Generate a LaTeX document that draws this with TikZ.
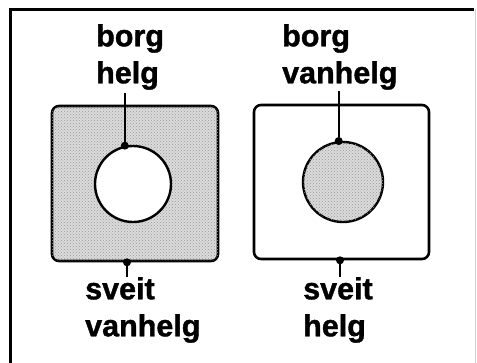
\documentclass[tikz,border=0pt]{standalone}
\usepackage{fontspec}
\setmainfont{Liberation Sans}
\newfontfamily\labelfont{Liberation Sans Bold}[FakeBold=1.2]
\usepackage{tikz}
\usetikzlibrary{patterns,calc}

\begin{document}
\begin{tikzpicture}[
  x=1pt, y=-1pt,
  sq/.style={draw, line width=2.6pt, rounded corners=7pt, inner sep=0pt},
  hole/.style={draw, circle, line width=2.4pt, inner sep=0pt},
  stipple/.style={fill=gray!28, postaction={pattern=crosshatch dots, pattern color=gray!80}},
  word/.style={anchor=north west, inner sep=0pt, align=left, font=\labelfont\fontsize{30.5}{37}\selectfont},
  pin/.style={line width=2.2pt}
]
  \useasboundingbox (0,0) rectangle (477,362);

  % frame
  \draw[line width=3pt] (10,364) -- (10,9) -- (474,9);
  \draw[gray!35, line width=1pt] (475,9) -- (475,364);

  % left panel: shaded square with white hole
  \node[sq, stipple, minimum width=166pt, minimum height=155pt] (lsq) at (135,183.5) {};
  \node[hole, fill=white, minimum size=76pt] (lhole) at (133,184) {};
  \node[word] (ltop) at (96,24) {borg\\helg};
  \node[word] (lbot) at (85,277) {sveit\\vanhelg};

  % right panel: white square with shaded disc
  \node[sq, fill=white, minimum width=175pt, minimum height=154pt] (rsq) at (341.5,182) {};
  \node[hole, stipple, minimum size=80pt] (rhole) at (343,182) {};
  \node[word] (rtop) at (282,24) {borg\\vanhelg};
  \node[word] (rbot) at (303,277) {sveit\\helg};

  % pointers
  \draw[pin] (lhole.102) -- ([yshift=-3pt]lhole.102 |- ltop.south);
  \fill (lhole.102) circle (4pt);
  \draw[pin] ([xshift=-8pt]lsq.south) -- ([xshift=-8pt]lsq.south |- lbot.north);
  \fill ([xshift=-8pt]lsq.south) circle (4pt);

  \draw[pin] (rhole.96) -- ([yshift=-1pt]rhole.96 |- rtop.south);
  \fill (rhole.96) circle (4pt);
  \draw[pin] ([xshift=-1.5pt]rsq.south) -- ([xshift=-1.5pt]rsq.south |- rbot.north);
  \fill ([xshift=-1.5pt]rsq.south) circle (4pt);
\end{tikzpicture}
\end{document}
